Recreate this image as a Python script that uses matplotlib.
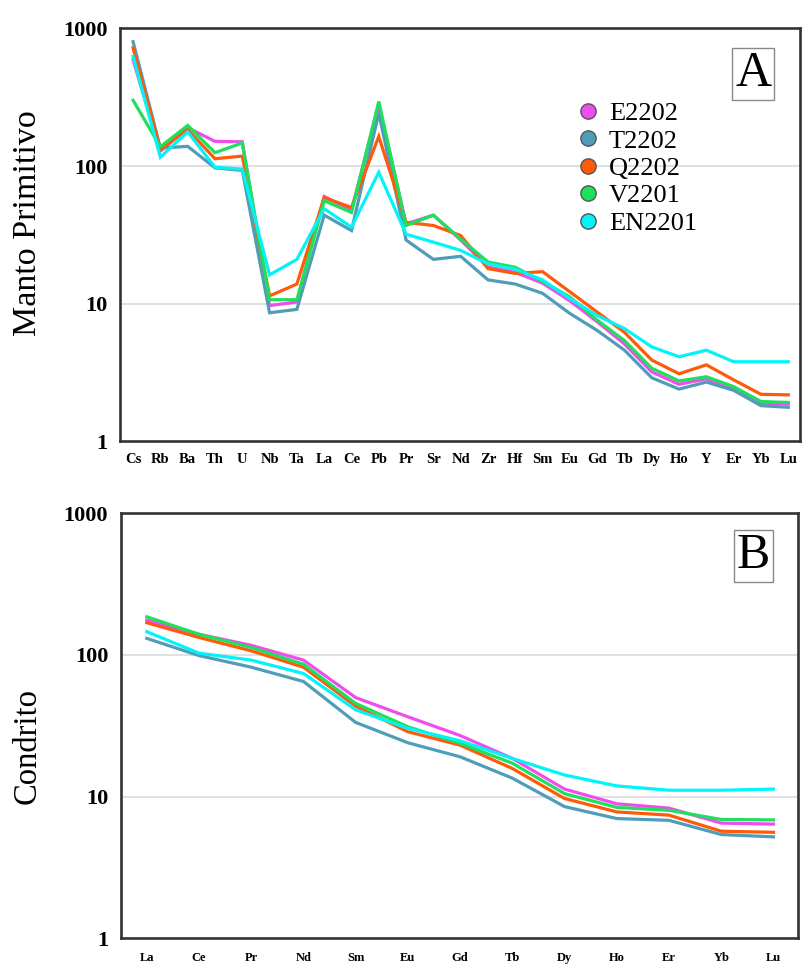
import matplotlib
matplotlib.use("Agg")
import matplotlib.pyplot as plt
from matplotlib.lines import Line2D
import numpy as np

# ---- data ----------------------------------------------------------------
samples = ["E2202", "T2202", "Q2202", "V2201", "EN2201"]
colors = ["#f04cf0", "#4f9db8", "#ff5a0a", "#1fe05a", "#00f4f8"]

pm_elements = ["Cs", "Rb", "Ba", "Th", "U", "Nb", "Ta", "La", "Ce", "Pb", "Pr",
               "Sr", "Nd", "Zr", "Hf", "Sm", "Eu", "Gd", "Tb", "Dy", "Ho", "Y",
               "Er", "Yb", "Lu"]

pm_E2202 = [590, 128, 190, 151, 150, 9.7, 10.3, 60, 48, 275, 38, 44, 29, 18.5,
            16.9, 14.1, 10.5, 7.4, 5.1, 3.2, 2.6, 2.85, 2.45, 1.9, 1.87]
pm_T2202 = [800, 135, 139, 97, 93, 8.6, 9.1, 44, 34, 242, 29, 21, 22.1, 14.9,
            13.9, 11.9, 8.5, 6.4, 4.6, 2.9, 2.4, 2.7, 2.35, 1.82, 1.77]
pm_Q2202 = [720, 132, 184, 113, 118, 11.4, 13.9, 59, 50, 164, 39, 37, 31.3, 18,
            16.6, 17.1, 12.2, 8.7, 6.2, 3.9, 3.1, 3.6, 2.8, 2.2, 2.18]
pm_V2201 = [300, 138, 197, 125, 147, 10.7, 10.7, 56, 46, 294, 37, 44, 29.5, 20.1,
            18.4, 14.5, 11.2, 7.6, 5.4, 3.4, 2.75, 2.95, 2.5, 1.95, 1.92]
pm_EN2201 = [625, 116, 177, 98, 95, 16.2, 21, 49, 36, 90, 32, 28, 24.4, 19.5,
             17.8, 14.9, 10.9, 8.2, 6.6, 4.86, 4.12, 4.6, 3.79, 3.79, 3.79]

ree_elements = ["La", "Ce", "Pr", "Nd", "Sm", "Eu", "Gd", "Tb", "Dy", "Ho",
                "Er", "Yb", "Lu"]

ch_E2202 = [176, 140, 117, 92, 50, 36.6, 27, 18.6, 11.3, 8.9, 8.3, 6.5, 6.4]
ch_T2202 = [131, 99, 82, 65, 33.4, 24, 19.1, 13.5, 8.5, 7.0, 6.8, 5.4, 5.2]
ch_Q2202 = [169, 133, 107, 82, 43.5, 28.7, 23.1, 15.8, 9.7, 7.8, 7.4, 5.7, 5.6]
ch_V2201 = [186, 140, 113, 86, 45.5, 31.1, 23.8, 17.2, 10.5, 8.4, 8.0, 6.9, 6.85]
ch_EN2201 = [146, 103, 92, 74, 41, 30.3, 24.8, 18.6, 14.2, 11.9, 11.1, 11.1, 11.3]

pm_series = [pm_E2202, pm_T2202, pm_Q2202, pm_V2201, pm_EN2201]
ch_series = [ch_E2202, ch_T2202, ch_Q2202, ch_V2201, ch_EN2201]

# ---- style ---------------------------------------------------------------
plt.rcParams["font.family"] = ["Liberation Serif", "DejaVu Serif"]
frame_color = "#333333"
grid_color = "#dddddd"

fig = plt.figure(figsize=(8.03, 9.66), dpi=100)
axA = fig.add_axes([0.1494, 0.5430, 0.9963 - 0.1494, 0.9707 - 0.5430])
axB = fig.add_axes([0.1503, 0.0287, 0.9938 - 0.1503, 0.4686 - 0.0287])


def style_axes(ax, labels, xlim, xfs, xpad):
    ax.set_yscale("log")
    ax.set_ylim(1, 1000)
    ax.set_xlim(*xlim)
    ax.set_yticks([1, 10, 100, 1000])
    ax.set_yticklabels(["1", "10", "100", "1000"])
    ax.yaxis.set_minor_locator(matplotlib.ticker.NullLocator())
    ax.set_xticks(np.arange(len(labels)))
    ax.set_xticklabels(labels)
    for y in (10, 100):
        ax.axhline(y, color=grid_color, lw=1.3, zorder=0)
    ax.tick_params(axis="y", length=0, pad=9, labelsize=16)
    ax.tick_params(axis="x", length=0, pad=xpad, labelsize=xfs)
    for lab in ax.get_yticklabels() + ax.get_xticklabels():
        lab.set_fontweight("bold")
    for sp in ax.spines.values():
        sp.set_color(frame_color)
        sp.set_linewidth(1.9)


# ---- panel A: primitive mantle normalised ----------------------------------
xa = np.arange(len(pm_elements))
for vals, c in zip(pm_series, colors):
    axA.plot(xa, vals, color=c, lw=2.3, solid_joinstyle="miter", zorder=3)
style_axes(axA, pm_elements, (-0.48, 24.43), 10.5, 8)

handles = [Line2D([], [], ls="none", marker="o", markersize=11,
                  markerfacecolor=c, markeredgecolor="#555555",
                  markeredgewidth=1.0) for c in colors]
axA.legend(handles, samples, loc="upper left",
           bbox_to_anchor=(0.655, 0.848), frameon=False, fontsize=19,
           handletextpad=0.35, labelspacing=0.15, borderaxespad=0,
           handlelength=0.9)

axA.text(0.931, 0.889, "A", transform=axA.transAxes, fontsize=36,
         ha="center", va="center",
         bbox=dict(boxstyle="square,pad=0.06", fc="white", ec="#888888",
                   lw=1.0))

# ---- panel B: chondrite normalised -----------------------------------------
xb = np.arange(len(ree_elements))
for vals, c in zip(ch_series, colors):
    axB.plot(xb, vals, color=c, lw=2.3, solid_joinstyle="miter", zorder=3)
style_axes(axB, ree_elements, (-0.5, 12.47), 9, 10)

axB.text(0.9344, 0.9, "B", transform=axB.transAxes, fontsize=36,
         ha="center", va="center",
         bbox=dict(boxstyle="square,pad=0.06", fc="white", ec="#888888",
                   lw=1.0))

# ---- axis titles ------------------------------------------------------------
fig.text(28 / 803, 1 - 223 / 966, "Manto Primitivo", rotation=90,
         fontsize=24.5, ha="center", va="center")
fig.text(27 / 803, 1 - 746 / 966, "Condrito", rotation=90,
         fontsize=23.5, ha="center", va="center")

fig.savefig("out.png", dpi=100)
